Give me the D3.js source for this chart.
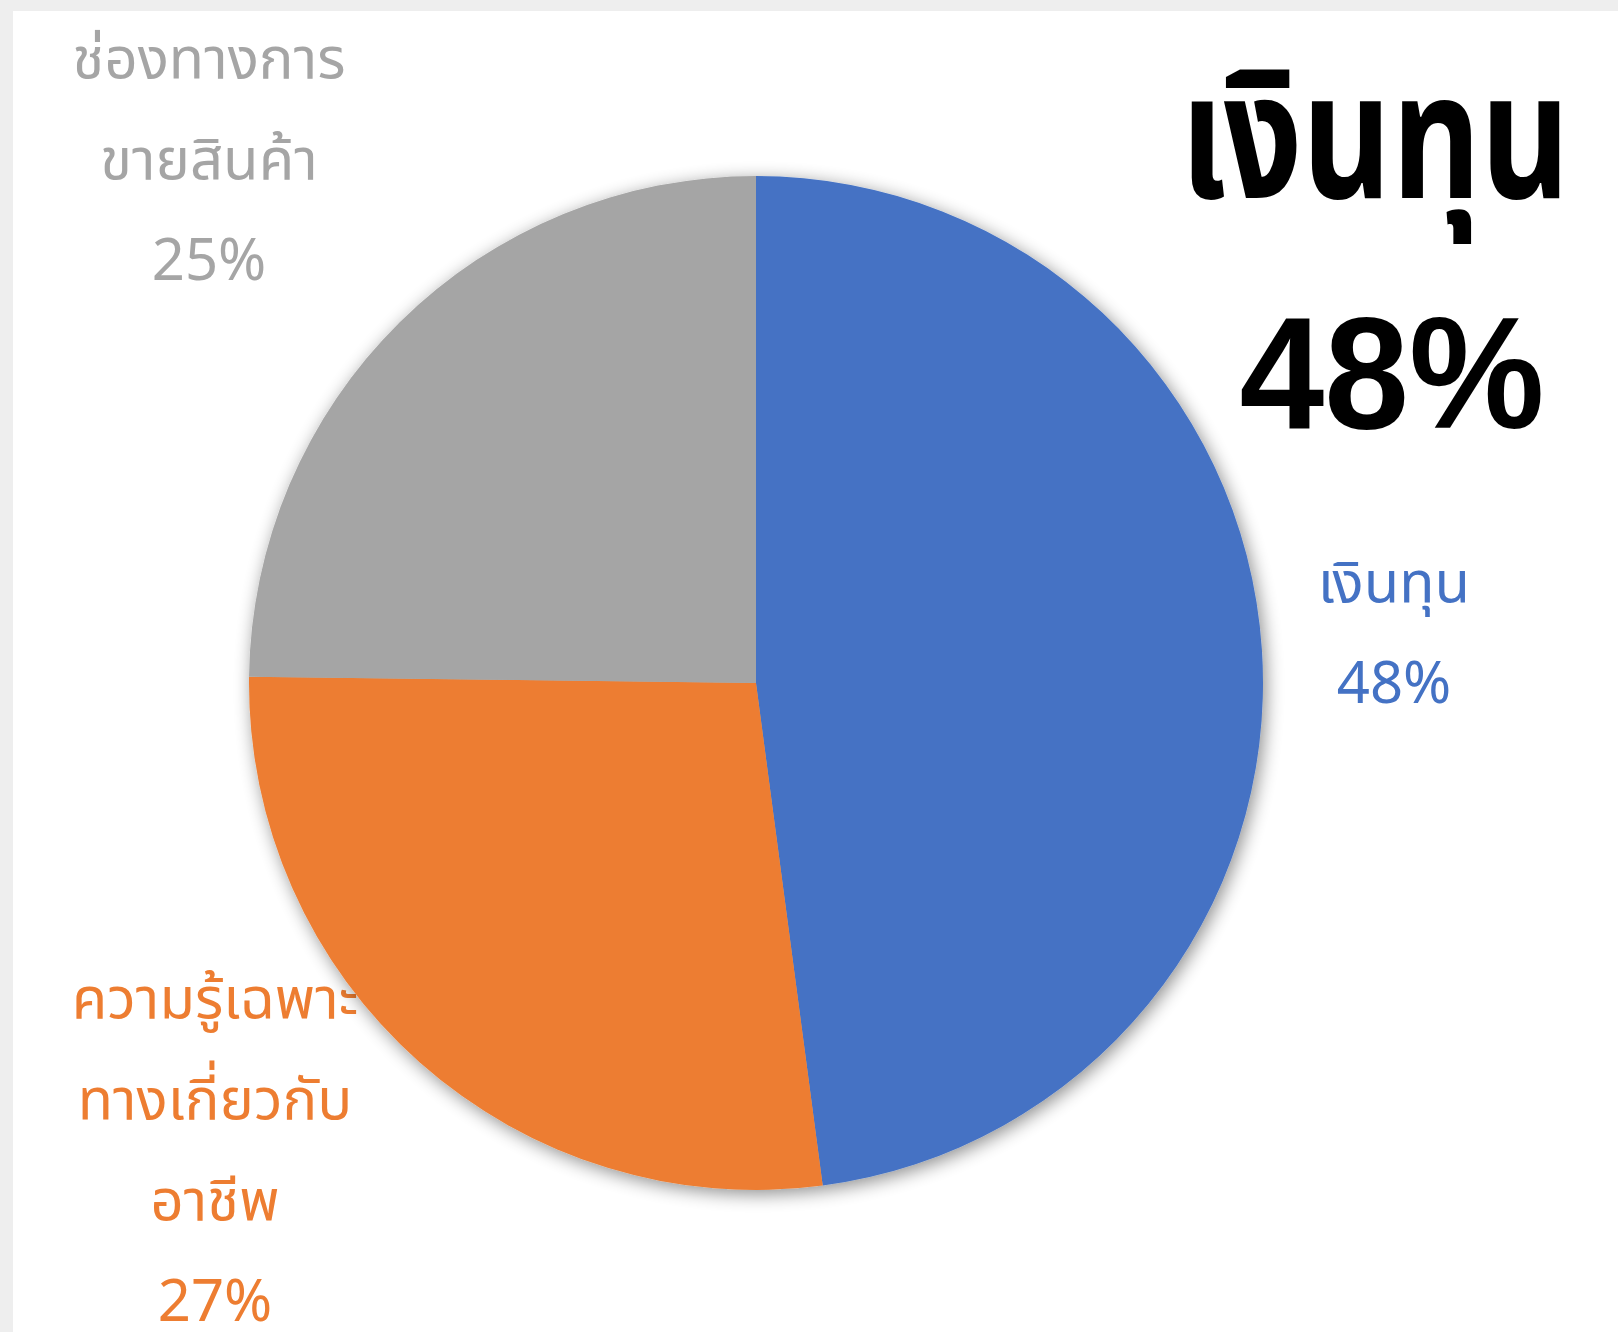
<!DOCTYPE html>
<html>
<head>
<meta charset="utf-8">
<script src="https://cdn.jsdelivr.net/npm/d3@7"></script>
<style>
  body { margin: 0; background: #eeeeee; }
  text { font-family: "Noto Sans Thai", "Leelawadee UI", Tahoma, "Noto Sans", sans-serif; }
</style>
</head>
<body>
<div class="draw"></div>
<script>
const width = 1618
const height = 1332

// data
const categories = ["เงินทุน", "ความรู้เฉพาะทางเกี่ยวกับอาชีพ", "ช่องทางการขายสินค้า"]
const values = [47.9, 27.3, 24.8]
const labelLines = [["เงินทุน"], ["ความรู้เฉพาะ", "ทางเกี่ยวกับ", "อาชีพ"], ["ช่องทางการ", "ขายสินค้า"]]
const colors = ["#4472c4", "#ed7d31", "#a5a5a5"]
const headline = "เงินทุน"

// layout
const cx = 756, cy = 683, radius = 507
const labelSpots = [[1394, 602], [215, 1018], [209, 78]]
const lineGap = 101
const labelSize = 58

let svg = d3.select("div.draw")
    .append("svg")
    .attr("width", width)
    .attr("height", height)

svg.append("rect")
    .attr("x", 13).attr("y", 11)
    .attr("width", width - 13).attr("height", height - 11)
    .style("fill", "white")

let defs = svg.append("defs")
let shadow = defs.append("filter")
    .attr("id", "shadow")
    .attr("x", "-20%").attr("y", "-20%")
    .attr("width", "140%").attr("height", "140%")
shadow.append("feGaussianBlur").attr("in", "SourceAlpha").attr("stdDeviation", 9).attr("result", "blur")
shadow.append("feOffset").attr("in", "blur").attr("dx", 3).attr("dy", 4).attr("result", "off")
shadow.append("feComponentTransfer").attr("in", "off").attr("result", "soft")
    .append("feFuncA").attr("type", "linear").attr("slope", 0.45)
let merge = shadow.append("feMerge")
merge.append("feMergeNode").attr("in", "soft")
merge.append("feMergeNode").attr("in", "SourceGraphic")

let total = d3.sum(values)
let pct = d3.format(".0%")

// data labels (drawn first, the pie covers the orange one a bit)
let labels = svg.selectAll("g.label")
    .data(values)
    .enter()
    .append("g")
    .attr("class", "label")
    .attr("transform", (d, i) => "translate(" + labelSpots[i][0] + "," + labelSpots[i][1] + ")")
    .style("fill", (d, i) => colors[i])

labels.each(function(d, i){
  let g = d3.select(this)
  let lines = labelLines[i].concat([pct(d / total)])
  lines.forEach((t, j) => {
    g.append("text")
      .attr("y", j * lineGap)
      .attr("text-anchor", "middle")
      .style("font-size", labelSize + "px")
      .text(t)
  })
})

let pie = d3.pie().sort(null).value(d => d)
let arc = d3.arc().innerRadius(0).outerRadius(radius)

svg.append("g")
    .attr("transform", "translate(" + cx + "," + cy + ")")
    .attr("filter", "url(#shadow)")
    .selectAll("path")
    .data(pie(values))
    .enter()
    .append("path")
    .attr("d", arc)
    .style("fill", (d, i) => colors[i])

// big callout
svg.append("text")
    .attr("x", 1375).attr("y", 198)
    .attr("text-anchor", "middle")
    .attr("textLength", 390)
    .attr("lengthAdjust", "spacingAndGlyphs")
    .style("font-size", "176px")
    .style("font-weight", "bold")
    .style("fill", "black")
    .text(headline)

svg.append("text")
    .attr("x", 1392).attr("y", 428)
    .attr("text-anchor", "middle")
    .attr("textLength", 305)
    .attr("lengthAdjust", "spacingAndGlyphs")
    .style("font-family", "'Liberation Sans', Arial, sans-serif")
    .style("font-size", "160px")
    .style("font-weight", "bold")
    .style("fill", "black")
    .text(pct(values[0] / total))
</script>
</body>
</html>
